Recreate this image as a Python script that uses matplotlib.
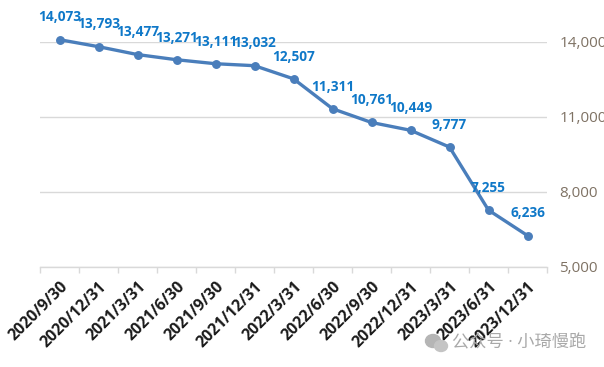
import matplotlib
matplotlib.use('Agg')
import matplotlib.pyplot as plt
import numpy as np
from matplotlib.patches import Ellipse

plt.rcParams['font.family'] = ['Open Sans', 'Noto Sans CJK SC', 'DejaVu Sans']

dates = ['2020/9/30', '2020/12/31', '2021/3/31', '2021/6/30', '2021/9/30', '2021/12/31',
         '2022/3/31', '2022/6/30', '2022/9/30', '2022/12/31', '2023/3/31', '2023/6/31',
         '2023/12/31']
values = [14073, 13793, 13477, 13271, 13111, 13032, 12507, 11311, 10761, 10449, 9777, 7255, 6236]
y_ticks = [5000, 8000, 11000, 14000]

W, H = 604, 367
fig = plt.figure(figsize=(W / 100, H / 100), dpi=100, facecolor='white')
# axes placed in pixels, 5000 sits at y=266.5 and 14000 at y=41.5
ax = fig.add_axes([40 / W, 1 - 266.5 / H, 507 / W, 225 / H])

x = np.arange(len(values))
ax.set_xlim(-0.5, len(values) - 0.5)
ax.set_ylim(5000, 14000)

ax.plot(x, values, color='#4a7ebb', lw=2.4, marker='o', ms=5.4, clip_on=False, zorder=3)

for xi, v in zip(x, values):
    ax.annotate(f'{v:,}', (xi, v), xytext=(0, 16), textcoords='offset points',
                ha='center', va='center', fontsize=9.8, fontweight='bold',
                color='#0f78c8', zorder=4, annotation_clip=False)

for s in ['top', 'left', 'right']:
    ax.spines[s].set_visible(False)
ax.spines['bottom'].set_color('#d9d9d9')
ax.spines['bottom'].set_linewidth(1)

ax.set_yticks(y_ticks)
ax.set_yticklabels([f'{t:,}' for t in y_ticks])
ax.yaxis.tick_right()
ax.tick_params(axis='y', length=0, pad=9, labelsize=11, labelcolor='#7f7264')
ax.grid(axis='y', color='#d9d9d9', lw=1)
ax.set_axisbelow(True)

ax.set_xticks(np.arange(len(values) + 1) - 0.5, minor=False)
ax.set_xticklabels([''] * (len(values) + 1))
ax.tick_params(axis='x', length=4, width=1, color='#d9d9d9')
ax.set_xticks(x, minor=True)
ax.set_xticklabels(dates, minor=True, rotation=45, ha='right', va='top',
                   rotation_mode='anchor', fontsize=11.4, fontweight='bold', color='#1a1a1a')
ax.tick_params(axis='x', which='minor', length=0, pad=9)

# watermark
fig.text(452 / W, 1 - 343 / H, '公众号 · 小琦慢跑', fontsize=12.4, color='#a9a9a9',
         ha='left', va='center')
fig.add_artist(Ellipse((433 / W, 1 - 341 / H), 15 / W, 13 / H, color='#b5b5b5',
                       transform=fig.transFigure))
fig.add_artist(Ellipse((441 / W, 1 - 346 / H), 13 / W, 11 / H, color='#c4c4c4',
                       transform=fig.transFigure))

fig.savefig('out.png', dpi=100)
